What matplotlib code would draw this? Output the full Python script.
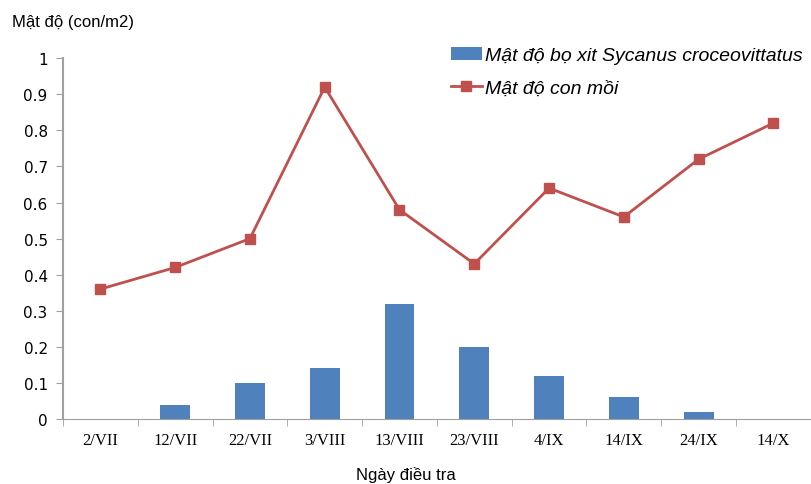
import matplotlib.pyplot as plt
import numpy as np

dates = ["2/VII", "12/VII", "22/VII", "3/VIII", "13/VIII", "23/VIII",
         "4/IX", "14/IX", "24/IX", "14/X"]
bo_xit = [0, 0.04, 0.10, 0.14, 0.32, 0.20, 0.12, 0.06, 0.02, 0]
con_moi = [0.36, 0.42, 0.50, 0.92, 0.58, 0.43, 0.64, 0.56, 0.72, 0.82]

label_bar = "Mật độ bọ xit Sycanus croceovittatus"
label_line = "Mật độ con mồi"

fig = plt.figure(figsize=(8.11, 4.85), dpi=100)
ax = fig.add_axes([0.0777, 0.134, 0.922, 0.744])

x = np.arange(len(dates))
bars = ax.bar(x, bo_xit, width=0.4, color="#4F81BD", zorder=2)
line, = ax.plot(x, con_moi, color="#C0504D", lw=2, marker="s", markersize=7, zorder=3)

ax.set_xlim(-0.5, len(dates) - 0.5)
ax.set_ylim(0, 1)
ax.set_yticks(np.arange(0, 1.01, 0.1))
ax.set_yticklabels(["0", "0.1", "0.2", "0.3", "0.4", "0.5", "0.6", "0.7", "0.8", "0.9", "1"],
                   fontsize=11, family="DejaVu Sans")
ax.set_xticks(x)
ax.set_xticklabels(dates, fontsize=12, family="Liberation Serif")
ax.set_xticks(np.arange(-0.5, len(dates), 1), minor=True)
ax.tick_params(axis="x", which="major", length=0, pad=9)
ax.tick_params(axis="x", which="minor", length=5, color="#A0A0A0")
ax.tick_params(axis="y", length=5, color="#A0A0A0", pad=6)

for s in ["top", "right"]:
    ax.spines[s].set_visible(False)
ax.spines["left"].set_color("#A0A0A0")
ax.spines["bottom"].set_color("#A0A0A0")
ax.spines["left"].set_linewidth(1.5)

fig.text(0.015, 0.953, "Mật độ (con/m2)", fontsize=12, family="Liberation Sans",
         va="center")
fig.text(0.5, 0.02, "Ngày điều tra", fontsize=12, family="Liberation Sans",
         ha="center", va="center")

ax.legend([bars, line], [label_bar, label_line], loc="upper left",
          bbox_to_anchor=(0.495, 1.08), frameon=False,
          prop={"family": "Liberation Sans", "style": "italic", "size": 14},
          handlelength=1.6, handletextpad=0.15, labelspacing=0.75)

fig.savefig("out.png", dpi=100)
